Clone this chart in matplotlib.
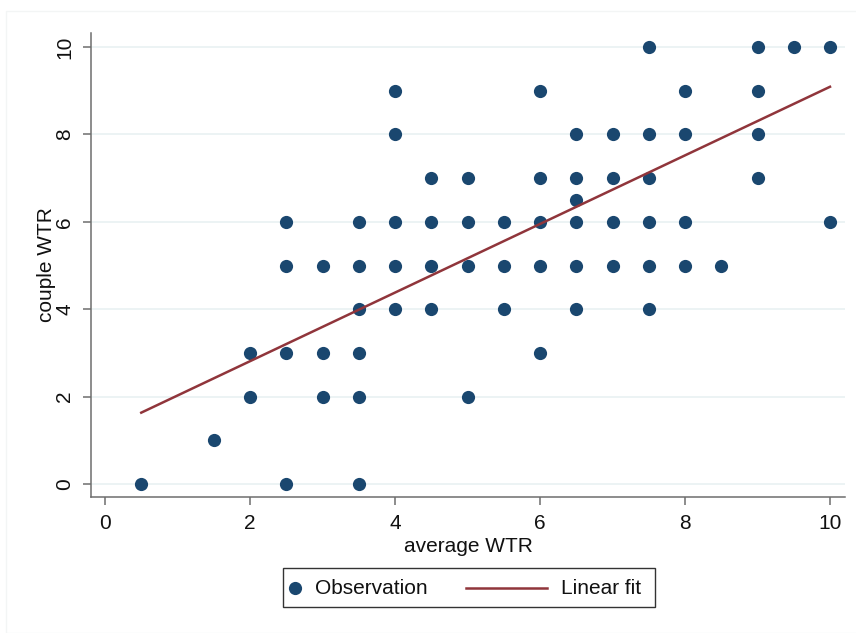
import matplotlib
matplotlib.use("Agg")
import matplotlib.pyplot as plt
from matplotlib.lines import Line2D
from matplotlib.patches import Rectangle
import numpy as np

plt.rcParams['font.family'] = ['Liberation Sans', 'DejaVu Sans']

# Observations (average WTR, couple WTR)
avg_wtr = [7.5, 9, 9.5, 10,
           4, 6, 8, 9,
           4, 6.5, 7, 7.5, 8, 9,
           4.5, 5, 6, 6.5, 7, 7.5, 9,
           6.5,
           2.5, 3.5, 4, 4.5, 5, 5.5, 6, 6.5, 7, 7.5, 8, 10,
           2.5, 3, 3.5, 4, 4.5, 5, 5.5, 6, 6.5, 7, 7.5, 8, 8.5,
           3.5, 4, 4.5, 5.5, 6.5, 7.5,
           2, 2.5, 3, 3.5, 6,
           2, 3, 3.5, 5,
           1.5,
           0.5, 2.5, 3.5]
couple_wtr = [10, 10, 10, 10,
              9, 9, 9, 9,
              8, 8, 8, 8, 8, 8,
              7, 7, 7, 7, 7, 7, 7,
              6.5,
              6, 6, 6, 6, 6, 6, 6, 6, 6, 6, 6, 6,
              5, 5, 5, 5, 5, 5, 5, 5, 5, 5, 5, 5, 5,
              4, 4, 4, 4, 4, 4,
              3, 3, 3, 3, 3,
              2, 2, 2, 2,
              1,
              0, 0, 0]

# Linear fit coefficients
fit_intercept = 1.24
fit_slope = 0.785

x_ticks = [0, 2, 4, 6, 8, 10]
y_ticks = [0, 2, 4, 6, 8, 10]

W, H = 856, 633
fig = plt.figure(figsize=(W / 100, H / 100), dpi=100)

def fx(px):
    return px / W

def fy(py):
    return 1 - py / H

# axes region in pixels: left 91, right 845, top 33, bottom 497
L, R, T, B = 91, 845, 33, 497
ax = fig.add_axes([fx(L), fy(B), fx(R) - fx(L), fy(T) - fy(B)])

# pixel scale: x 0->105, 10->830 ; y 0->484, 10->47
xppu = (830 - 105) / 10
yppu = (484 - 47) / 10
ax.set_xlim(0 - (105 - L) / xppu, 10 + (R - 830) / xppu)
ax.set_ylim(0 - (B - 484) / yppu, 10 + (47 - T) / yppu)

navy = '#1a476f'
maroon = '#90353b'

for yt in y_ticks:
    ax.axhline(yt, color='#eaf2f3', lw=1.3, zorder=0)

ax.plot(avg_wtr, couple_wtr, 'o', color=navy, markersize=9.5,
        markeredgewidth=0, zorder=3)

xf = np.array([min(avg_wtr), max(avg_wtr)])
ax.plot(xf, fit_intercept + fit_slope * xf, color=maroon, lw=1.8, zorder=4)

for s in ['top', 'right']:
    ax.spines[s].set_visible(False)
for s in ['left', 'bottom']:
    ax.spines[s].set_color('#6e6e6e')
    ax.spines[s].set_linewidth(1.1)

ax.set_xticks(x_ticks)
ax.set_yticks(y_ticks)
ax.tick_params(axis='both', length=6, width=1.1, color='#6e6e6e',
               labelsize=15, labelcolor='#111111')
ax.tick_params(axis='x', pad=6)
ax.tick_params(axis='y', pad=6, labelrotation=90)
for lab in ax.get_yticklabels():
    lab.set_va('center')

fig.text(fx(468), fy(547), 'average WTR', ha='center', va='center',
         fontsize=15, color='#111111')
fig.text(fx(47), fy(265), 'couple WTR', ha='center', va='center',
         rotation=90, fontsize=15, color='#111111')

# legend box
fig.patches.append(Rectangle((fx(283), fy(607)), fx(655) - fx(283),
                             fy(568) - fy(607), transform=fig.transFigure,
                             facecolor='white', edgecolor='#333333', lw=1.0))
fig.lines.append(Line2D([fx(295)], [fy(588)], marker='o', color=navy,
                        markersize=9.5, markeredgewidth=0,
                        transform=fig.transFigure))
fig.text(fx(315), fy(589), 'Observation', ha='left', va='center',
         fontsize=15, color='#111111')
fig.lines.append(Line2D([fx(466), fx(547)], [fy(588), fy(588)], color=maroon,
                        lw=1.8, transform=fig.transFigure))
fig.text(fx(561), fy(589), 'Linear fit', ha='left', va='center',
         fontsize=15, color='#111111')

# faint outer graph region border
fig.patches.append(Rectangle((fx(6), fy(633)), fx(856), fy(11) - fy(633),
                             transform=fig.transFigure, facecolor='none',
                             edgecolor='#f3f5f5', lw=1.0, zorder=-1))

fig.savefig('out.png', dpi=100)
